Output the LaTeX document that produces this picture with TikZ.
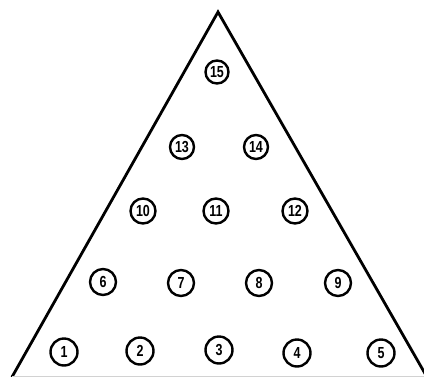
\documentclass[tikz,border=0pt]{standalone}
\usepackage{fontspec}
\setsansfont{Liberation Sans}
\newcommand\sqz[1]{\scalebox{0.78}[1]{#1}}
\begin{document}
\begin{tikzpicture}[x=1pt,y=-1pt,
  hole/.style={circle,draw=black,line width=2.4pt,minimum size=25pt,inner sep=0pt,
    font=\sffamily\bfseries\fontsize{16}{16}\selectfont},
  side/.style={line width=2.8pt,line cap=round}]
\useasboundingbox (0,0) rectangle (424,376);
\coordinate (apex) at (218,12);
\coordinate (bl) at (12,377);
\coordinate (br) at (427,377);
\draw[side] (bl) -- (apex) -- (br);
\draw[gray!35,line width=1.5pt] (bl) -- (br);
\node[hole,minimum size=23pt] (n15) at (217,72) {\sqz{15}};
\node[hole,minimum size=24pt] (n13) at (182,147) {\sqz{13}};
\node[hole,minimum size=24pt] (n14) at (256,147) {\sqz{14}};
\node[hole] (n10) at (143,211) {\sqz{10}};
\node[hole] (n11) at (216,211) {\sqz{11}};
\node[hole] (n12) at (295,211) {\sqz{12}};
\node[hole,minimum size=26pt] (n6) at (103,282) {\sqz{6}};
\node[hole,minimum size=26pt] (n7) at (181,283) {\sqz{7}};
\node[hole,minimum size=26pt] (n8) at (259,283) {\sqz{8}};
\node[hole,minimum size=26pt] (n9) at (338,283) {\sqz{9}};
\node[hole,minimum size=27pt] (n1) at (64,352) {\sqz{1}};
\node[hole,minimum size=27pt] (n2) at (140,351) {\sqz{2}};
\node[hole,minimum size=27pt] (n3) at (219,350) {\sqz{3}};
\node[hole,minimum size=27pt] (n4) at (297,353) {\sqz{4}};
\node[hole,minimum size=27pt] (n5) at (381,353) {\sqz{5}};
\end{tikzpicture}
\end{document}
